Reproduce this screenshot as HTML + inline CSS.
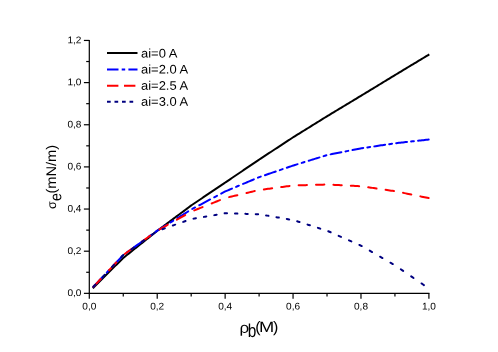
<!DOCTYPE html>
<html><head><meta charset="utf-8"><title>plot</title>
<style>
html,body{margin:0;padding:0;background:#fff;}
body{width:498px;height:352px;overflow:hidden;}
svg{display:block;font-family:"Liberation Sans",sans-serif;}
</style></head><body>
<svg width="498" height="352" viewBox="0 0 498 352">
<defs><filter id="soft" x="-5%" y="-5%" width="110%" height="110%"><feGaussianBlur stdDeviation="0.35"/></filter></defs>
<rect width="498" height="352" fill="#ffffff"/>
<g stroke="#000" stroke-width="1.2" fill="none">
<line x1="89.3" y1="39.900000000000006" x2="89.3" y2="293.90000000000003"/>
<line x1="88.75" y1="293.35" x2="429.45" y2="293.35"/>
<line x1="89.30" y1="293.35" x2="89.30" y2="298.75"/>
<line x1="123.26" y1="293.35" x2="123.26" y2="296.45"/>
<line x1="157.22" y1="293.35" x2="157.22" y2="298.75"/>
<line x1="191.18" y1="293.35" x2="191.18" y2="296.45"/>
<line x1="225.14" y1="293.35" x2="225.14" y2="298.75"/>
<line x1="259.10" y1="293.35" x2="259.10" y2="296.45"/>
<line x1="293.06" y1="293.35" x2="293.06" y2="298.75"/>
<line x1="327.02" y1="293.35" x2="327.02" y2="296.45"/>
<line x1="360.98" y1="293.35" x2="360.98" y2="298.75"/>
<line x1="394.94" y1="293.35" x2="394.94" y2="296.45"/>
<line x1="428.90" y1="293.35" x2="428.90" y2="298.75"/>
<line x1="89.3" y1="293.35" x2="83.90" y2="293.35"/>
<line x1="89.3" y1="272.28" x2="86.20" y2="272.28"/>
<line x1="89.3" y1="251.20" x2="83.90" y2="251.20"/>
<line x1="89.3" y1="230.13" x2="86.20" y2="230.13"/>
<line x1="89.3" y1="209.05" x2="83.90" y2="209.05"/>
<line x1="89.3" y1="187.98" x2="86.20" y2="187.98"/>
<line x1="89.3" y1="166.90" x2="83.90" y2="166.90"/>
<line x1="89.3" y1="145.83" x2="86.20" y2="145.83"/>
<line x1="89.3" y1="124.75" x2="83.90" y2="124.75"/>
<line x1="89.3" y1="103.67" x2="86.20" y2="103.67"/>
<line x1="89.3" y1="82.60" x2="83.90" y2="82.60"/>
<line x1="89.3" y1="61.52" x2="86.20" y2="61.52"/>
<line x1="89.3" y1="40.45" x2="83.90" y2="40.45"/>
</g>
<g fill="#000" filter="url(#soft)">
<text transform="translate(89.30,309.60) rotate(0.03) scale(1.04,1.0)" font-size="9.7px" text-anchor="middle">0,0</text>
<text transform="translate(157.22,309.60) rotate(0.03) scale(1.04,1.0)" font-size="9.7px" text-anchor="middle">0,2</text>
<text transform="translate(225.14,309.60) rotate(0.03) scale(1.04,1.0)" font-size="9.7px" text-anchor="middle">0,4</text>
<text transform="translate(293.06,309.60) rotate(0.03) scale(1.04,1.0)" font-size="9.7px" text-anchor="middle">0,6</text>
<text transform="translate(360.98,309.60) rotate(0.03) scale(1.04,1.0)" font-size="9.7px" text-anchor="middle">0,8</text>
<text transform="translate(428.90,309.60) rotate(0.03) scale(1.04,1.0)" font-size="9.7px" text-anchor="middle">1,0</text>
<text transform="translate(81.40,296.05) rotate(0.03) scale(1.04,1.0)" font-size="9.7px" text-anchor="end">0,0</text>
<text transform="translate(81.40,253.90) rotate(0.03) scale(1.04,1.0)" font-size="9.7px" text-anchor="end">0,2</text>
<text transform="translate(81.40,211.75) rotate(0.03) scale(1.04,1.0)" font-size="9.7px" text-anchor="end">0,4</text>
<text transform="translate(81.40,169.60) rotate(0.03) scale(1.04,1.0)" font-size="9.7px" text-anchor="end">0,6</text>
<text transform="translate(81.40,127.45) rotate(0.03) scale(1.04,1.0)" font-size="9.7px" text-anchor="end">0,8</text>
<text transform="translate(81.40,85.30) rotate(0.03) scale(1.04,1.0)" font-size="9.7px" text-anchor="end">1,0</text>
<text transform="translate(81.40,43.15) rotate(0.03) scale(1.04,1.0)" font-size="9.7px" text-anchor="end">1,2</text>
</g>
<g fill="none" stroke-width="2" stroke-linejoin="round" stroke-linecap="round">
<path d="M92.80,288.20 L94.30,286.71 L95.79,285.23 L97.29,283.74 L98.78,282.26 L100.28,280.77 L101.77,279.29 L103.27,277.80 L104.76,276.31 L106.26,274.83 L107.76,273.34 L109.25,271.86 L110.75,270.37 L112.24,268.89 L113.74,267.40 L115.23,265.91 L116.73,264.43 L118.22,262.94 L119.72,261.46 L121.22,259.97 L122.71,258.49 L123.30,257.90 L124.21,257.18 L125.70,255.99 L127.20,254.79 L128.69,253.60 L130.19,252.41 L131.68,251.22 L133.18,250.03 L134.68,248.83 L136.17,247.64 L137.67,246.45 L139.16,245.26 L140.66,244.06 L142.15,242.87 L143.65,241.68 L145.14,240.49 L146.64,239.30 L148.14,238.10 L149.63,236.91 L151.13,235.72 L152.62,234.53 L154.12,233.34 L155.61,232.14 L157.11,230.95 L157.30,230.80 L158.60,229.83 L160.10,228.71 L161.60,227.59 L163.09,226.47 L164.59,225.36 L166.08,224.24 L167.58,223.12 L169.07,222.00 L170.57,220.89 L172.06,219.77 L173.56,218.65 L175.06,217.54 L176.55,216.42 L178.05,215.30 L179.54,214.18 L181.04,213.07 L182.53,211.95 L184.03,210.83 L185.52,209.71 L187.02,208.60 L188.52,207.48 L190.01,206.36 L191.30,205.40 L191.51,205.26 L193.00,204.25 L194.50,203.25 L195.99,202.24 L197.49,201.23 L198.98,200.22 L200.48,199.22 L201.98,198.21 L203.47,197.20 L204.97,196.20 L206.46,195.19 L207.96,194.18 L209.45,193.17 L210.95,192.17 L212.44,191.16 L213.94,190.15 L215.44,189.14 L216.93,188.14 L218.43,187.13 L219.92,186.12 L221.42,185.11 L222.91,184.11 L224.41,183.10 L225.30,182.50 L225.90,182.09 L227.40,181.08 L228.90,180.07 L230.39,179.06 L231.89,178.04 L233.38,177.03 L234.88,176.02 L236.37,175.01 L237.87,174.00 L239.36,172.99 L240.86,171.97 L242.36,170.96 L243.85,169.95 L245.35,168.94 L246.84,167.93 L248.34,166.92 L249.83,165.90 L251.33,164.89 L252.82,163.88 L254.32,162.87 L255.82,161.86 L257.31,160.85 L258.81,159.83 L259.30,159.50 L260.30,158.84 L261.80,157.86 L263.29,156.88 L264.79,155.90 L266.28,154.92 L267.78,153.94 L269.28,152.96 L270.77,151.98 L272.27,151.00 L273.76,150.01 L275.26,149.03 L276.75,148.05 L278.25,147.07 L279.74,146.09 L281.24,145.11 L282.74,144.13 L284.23,143.15 L285.73,142.17 L287.22,141.19 L288.72,140.21 L290.21,139.22 L291.71,138.24 L293.20,137.26 L293.30,137.20 L294.70,136.33 L296.20,135.40 L297.69,134.47 L299.19,133.55 L300.68,132.62 L302.18,131.69 L303.67,130.76 L305.17,129.83 L306.66,128.91 L308.16,127.98 L309.66,127.05 L311.15,126.12 L312.65,125.19 L314.14,124.27 L315.64,123.34 L317.13,122.41 L318.63,121.48 L320.12,120.55 L321.62,119.62 L323.12,118.70 L324.61,117.77 L326.11,116.84 L327.30,116.10 L327.60,115.92 L329.10,115.02 L330.59,114.11 L332.09,113.21 L333.58,112.31 L335.08,111.41 L336.58,110.51 L338.07,109.61 L339.57,108.70 L341.06,107.80 L342.56,106.90 L344.05,106.00 L345.55,105.10 L347.04,104.20 L348.54,103.29 L350.04,102.39 L351.53,101.49 L353.03,100.59 L354.52,99.69 L356.02,98.78 L357.51,97.88 L359.01,96.98 L360.50,96.08 L361.30,95.60 L362.00,95.17 L363.50,94.26 L364.99,93.35 L366.49,92.44 L367.98,91.53 L369.48,90.62 L370.97,89.71 L372.47,88.80 L373.96,87.89 L375.46,86.98 L376.96,86.07 L378.45,85.16 L379.95,84.25 L381.44,83.34 L382.94,82.43 L384.43,81.52 L385.93,80.61 L387.42,79.69 L388.92,78.78 L390.42,77.87 L391.91,76.96 L393.41,76.05 L394.90,75.14 L395.30,74.90 L396.40,74.24 L397.89,73.34 L399.39,72.43 L400.88,71.53 L402.38,70.63 L403.88,69.73 L405.37,68.83 L406.87,67.93 L408.36,67.02 L409.86,66.12 L411.35,65.22 L412.85,64.32 L414.34,63.42 L415.84,62.52 L417.34,61.61 L418.83,60.71 L420.33,59.81 L421.82,58.91 L423.32,58.01 L424.81,57.11 L426.31,56.20 L427.80,55.30 L429.30,54.40" stroke="#000" stroke-linecap="butt"/>
<path d="M93.40,286.76 L94.77,285.31 L96.13,283.86 L97.50,282.41 L98.87,280.96 L100.23,279.50 L101.60,278.05 L102.97,276.60 M106.76,272.57 L107.96,271.30 L109.16,270.02 M113.03,265.91 L114.39,264.46 L115.76,263.01 L117.13,261.56 L118.49,260.11 L119.86,258.65 L121.23,257.20 L122.59,255.75 M126.67,252.58 L128.08,251.57 L129.48,250.56 M133.66,247.57 L135.01,246.60 L136.36,245.63 L137.71,244.66 L139.06,243.69 L140.41,242.72 L141.76,241.75 L143.11,240.78 L144.46,239.81 M148.55,236.88 L149.96,235.87 L151.36,234.86 M155.54,231.87 L156.89,230.90 L157.30,230.60 L158.24,230.02 L159.59,229.18 L160.94,228.34 L162.29,227.50 L163.64,226.67 L164.99,225.83 L166.34,224.99 M170.43,222.45 L171.84,221.58 L173.24,220.71 M177.42,218.12 L178.77,217.28 L180.12,216.44 L181.47,215.60 L182.82,214.76 L184.17,213.93 L185.52,213.09 L186.87,212.25 L188.22,211.41 M192.31,208.96 L193.71,208.21 L195.12,207.47 M199.29,205.24 L200.65,204.53 L202.00,203.81 L203.35,203.09 L204.70,202.37 L206.05,201.65 L207.40,200.93 L208.75,200.21 L210.10,199.49 M214.19,197.32 L215.59,196.57 L217.00,195.82 M221.17,193.60 L222.52,192.88 L223.87,192.16 L225.22,191.44 L225.30,191.40 L226.57,190.86 L227.93,190.30 L229.28,189.73 L230.63,189.16 L231.98,188.59 M236.07,186.87 L237.47,186.28 L238.88,185.69 M243.05,183.93 L244.40,183.37 L245.75,182.80 L247.10,182.23 L248.45,181.66 L249.80,181.09 L251.15,180.53 L252.50,179.96 L253.85,179.39 M257.94,177.67 L259.30,177.10 L259.35,177.08 L260.76,176.60 M264.93,175.18 L266.28,174.72 L267.63,174.26 L268.98,173.80 L270.33,173.34 L271.68,172.88 L273.03,172.41 L274.38,171.95 L275.73,171.49 M279.82,170.10 L281.23,169.62 L282.64,169.14 M286.81,167.71 L288.16,167.25 L289.51,166.79 L290.86,166.33 L292.21,165.87 L293.30,165.50 L293.56,165.42 L294.91,165.00 L296.26,164.59 L297.61,164.17 M301.70,162.90 L303.11,162.47 L304.51,162.04 M308.69,160.75 L310.04,160.33 L311.39,159.91 L312.74,159.50 L314.09,159.08 L315.44,158.66 L316.79,158.25 L318.14,157.83 L319.49,157.41 M323.58,156.15 L324.99,155.71 L326.39,155.28 M330.57,154.36 L331.92,154.09 L333.27,153.82 L334.62,153.56 L335.97,153.29 L337.32,153.03 L338.67,152.76 L340.02,152.49 L341.37,152.23 M345.46,151.42 L346.87,151.14 L348.27,150.87 M352.45,150.04 L353.80,149.78 L355.15,149.51 L356.50,149.25 L357.85,148.98 L359.20,148.71 L360.55,148.45 L361.30,148.30 L361.90,148.21 L363.25,148.01 M367.34,147.40 L368.75,147.19 L370.15,146.99 M374.33,146.37 L375.68,146.16 L377.03,145.96 L378.38,145.76 L379.73,145.56 L381.08,145.36 L382.43,145.16 L383.78,144.96 L385.13,144.76 M389.22,144.15 L390.62,143.94 L392.03,143.74 M396.21,143.15 L397.56,143.00 L398.91,142.85 L400.26,142.70 L401.61,142.55 L402.96,142.41 L404.31,142.26 L405.66,142.11 L407.01,141.96 M411.10,141.51 L412.50,141.35 L413.91,141.20 M418.09,140.74 L419.41,140.59 L420.74,140.44 L422.07,140.30 L423.39,140.15 L424.72,140.01 L426.05,139.86 L427.37,139.71 L428.70,139.57" stroke="#0000ff"/>
<path d="M93.40,286.76 L94.87,285.20 L96.34,283.64 L97.80,282.08 L99.27,280.52 L100.74,278.97 M109.00,270.19 L110.47,268.63 L111.94,267.07 L113.41,265.51 L114.88,263.95 L116.34,262.39 M124.69,254.00 L126.08,253.01 L127.46,252.01 L128.85,251.02 L130.24,250.02 L131.62,249.03 L133.01,248.03 M142.08,241.52 L143.47,240.53 L144.86,239.53 L146.24,238.53 L147.63,237.54 L149.02,236.54 L150.40,235.55 M159.48,229.38 L160.86,228.61 L162.25,227.83 L163.64,227.06 L165.02,226.28 L166.41,225.51 L167.80,224.73 M176.87,219.66 L178.26,218.89 L179.65,218.11 L181.03,217.34 L182.42,216.56 L183.81,215.79 L185.19,215.01 M194.27,210.41 L195.65,209.86 L197.04,209.30 L198.43,208.75 L199.81,208.19 L201.20,207.64 L202.59,207.09 M211.66,203.46 L213.05,202.90 L214.43,202.35 L215.82,201.79 L217.21,201.24 L218.59,200.68 L219.98,200.13 M229.06,197.12 L230.44,196.79 L231.83,196.46 L233.22,196.14 L234.60,195.81 L235.99,195.49 L237.38,195.16 M246.45,193.02 L247.84,192.70 L249.22,192.37 L250.61,192.04 L252.00,191.72 L253.38,191.39 L254.77,191.07 M263.84,189.40 L265.23,189.22 L266.62,189.03 L268.00,188.85 L269.39,188.66 L270.78,188.48 L272.16,188.30 M281.24,187.10 L282.63,186.91 L284.01,186.73 L285.40,186.55 L286.79,186.36 L288.17,186.18 L289.56,186.00 M298.63,185.34 L300.02,185.30 L301.41,185.26 L302.79,185.22 L304.18,185.18 L305.57,185.14 L306.95,185.10 M316.03,184.83 L317.41,184.79 L318.80,184.75 L320.19,184.71 L321.57,184.67 L322.96,184.63 L324.35,184.59 M333.42,184.82 L334.81,184.89 L336.19,184.96 L337.58,185.03 L338.97,185.10 L340.35,185.17 L341.74,185.24 M350.82,185.71 L352.20,185.78 L353.59,185.85 L354.98,185.92 L356.36,186.00 L357.75,186.07 L359.14,186.14 M368.21,187.27 L369.60,187.47 L370.98,187.67 L372.37,187.88 L373.76,188.08 L375.14,188.29 L376.53,188.49 M385.60,189.82 L386.99,190.03 L388.38,190.23 L389.76,190.44 L391.15,190.64 L392.54,190.84 L393.92,191.05 M403.00,192.82 L404.39,193.11 L405.77,193.39 L407.16,193.67 L408.55,193.96 L409.93,194.24 L411.32,194.52 M420.39,196.38 L421.78,196.66 L423.16,196.95 L424.55,197.23 L425.93,197.51 L427.32,197.79 L428.70,198.08" stroke="#ff0000"/>
<path d="M93.40,286.76 L94.42,285.68 L95.43,284.60 M102.70,276.89 L103.71,275.81 L104.73,274.73 M111.99,267.01 L113.01,265.93 L114.03,264.85 M121.29,257.14 L122.34,256.02 L123.30,255.00 L123.39,254.93 M131.35,249.32 L132.55,248.47 L133.76,247.62 M141.72,242.00 L142.92,241.15 L144.12,240.30 M152.08,234.69 L153.28,233.84 L154.48,232.99 M162.44,229.19 L163.64,228.76 L164.85,228.34 M172.81,225.53 L174.01,225.10 L175.21,224.68 M183.17,221.87 L184.37,221.45 L185.57,221.02 M193.53,218.62 L194.73,218.42 L195.94,218.22 M203.90,216.87 L205.10,216.67 L206.30,216.46 M214.26,215.12 L215.46,214.91 L216.66,214.71 M224.62,213.36 L225.30,213.25 L225.82,213.27 L227.03,213.30 M234.98,213.53 L236.19,213.57 L237.39,213.61 M245.35,213.84 L246.55,213.88 L247.75,213.91 M255.71,214.14 L256.91,214.18 L258.12,214.22 M266.07,215.42 L267.28,215.62 L268.48,215.83 M276.44,217.20 L277.64,217.41 L278.84,217.61 M286.80,218.98 L288.00,219.19 L289.20,219.40 M297.16,221.32 L298.37,221.69 L299.57,222.07 M307.53,224.58 L308.73,224.96 L309.93,225.33 M317.89,227.84 L319.09,228.22 L320.29,228.60 M328.25,231.22 L329.46,231.75 L330.66,232.28 M338.62,235.79 L339.82,236.32 L341.02,236.85 M348.98,240.36 L350.18,240.90 L351.38,241.43 M359.34,244.94 L360.55,245.47 L361.30,245.80 L361.75,246.06 M369.71,250.67 L370.91,251.37 L372.11,252.06 M380.07,256.68 L381.27,257.37 L382.47,258.07 M390.43,262.68 L391.63,263.38 L392.84,264.07 M400.80,269.26 L402.00,270.08 L403.20,270.90 M411.16,276.34 L412.36,277.17 L413.56,277.99 M421.52,283.43 L422.72,284.25 L423.93,285.08" stroke="#000080"/>
</g>
<g fill="none" stroke-width="2">
<line x1="107" y1="53" x2="137.5" y2="53" stroke="#000"/>
<line x1="107" y1="69.4" x2="137.5" y2="69.4" stroke="#0000ff" stroke-dasharray="11.5 3.2 3.5 3.2"/>
<line x1="107" y1="85.7" x2="137.5" y2="85.7" stroke="#ff0000" stroke-dasharray="11.4 5.6"/>
<line x1="107" y1="101.7" x2="136" y2="101.7" stroke="#000080" stroke-dasharray="3.7 3.8"/>
</g>
<g fill="#000" filter="url(#soft)">
<text transform="translate(141.00,57.50) rotate(0.03) scale(1.045,1.0)" font-size="12.4px" text-anchor="start">ai=0 A</text>
<text transform="translate(141.00,73.50) rotate(0.03) scale(1.045,1.0)" font-size="12.4px" text-anchor="start">ai=2.0 A</text>
<text transform="translate(141.00,89.70) rotate(0.03) scale(1.045,1.0)" font-size="12.4px" text-anchor="start">ai=2.5 A</text>
<text transform="translate(141.00,105.80) rotate(0.03) scale(1.045,1.0)" font-size="12.4px" text-anchor="start">ai=3.0 A</text>
<text transform="translate(55.90,209.00) rotate(-89.97)" font-size="12.5px" text-anchor="start">σ</text>
<text transform="translate(61.30,201.00) rotate(-89.97) scale(1,1.12)" font-size="14.3px" text-anchor="start">e</text>
<text transform="translate(55.90,193.60) rotate(-89.97) scale(1.045,1)" font-size="14.0px" text-anchor="start">(mN/m)</text>
<text transform="translate(239.60,332.70) rotate(0.03) scale(1.15,1)" font-size="14.8px" text-anchor="start">ρ</text>
<text transform="translate(247.70,337.00) rotate(0.03) scale(1,1.22)" font-size="15.4px" text-anchor="start">b</text>
<text transform="translate(255.20,332.10) rotate(0.03) scale(1.05,1)" font-size="15.3px" text-anchor="start">(</text>
<text transform="translate(266.60,331.90) rotate(0.03) scale(1.22,1)" font-size="15.0px" text-anchor="middle">M</text>
<text transform="translate(278.30,332.10) rotate(0.03) scale(1.05,1)" font-size="15.3px" text-anchor="end">)</text>
</g>
</svg>
</body></html>
